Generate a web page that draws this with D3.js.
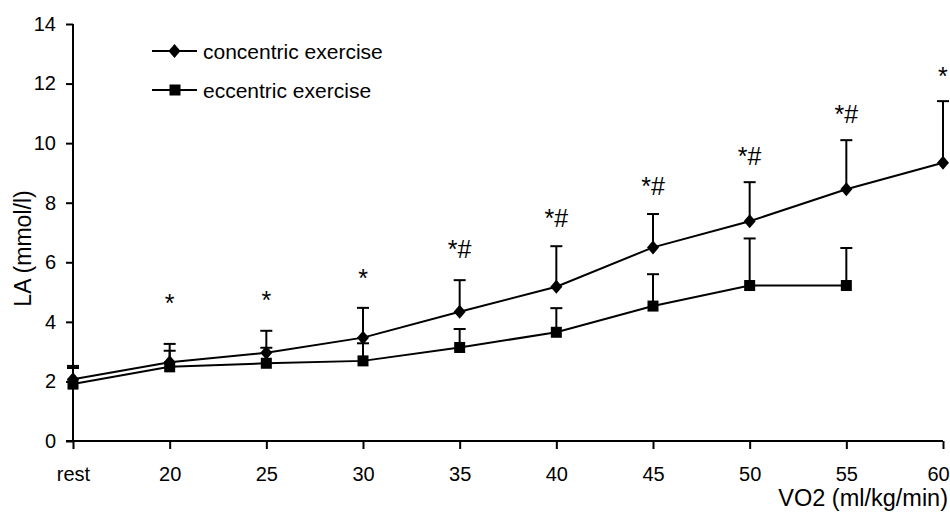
<!DOCTYPE html>
<html>
<head>
<meta charset="utf-8">
<script src="https://cdn.jsdelivr.net/npm/d3@7"></script>
<style>
  html, body { margin: 0; padding: 0; background: #fff; }
  svg { display: block; }
  text { font-family: "Liberation Sans", Arial, sans-serif; fill: #000; }
</style>
</head>
<body>
<svg id="chart" width="950" height="520"></svg>
<script>
// ---- data ----
const categories = ["rest", "20", "25", "30", "35", "40", "45", "50", "55", "60"];
const concentricMean = [2.07, 2.64, 2.96, 3.47, 4.34, 5.18, 6.50, 7.38, 8.45, 9.34];
const concentricUpper = [2.52, 3.26, 3.70, 4.47, 5.40, 6.54, 7.62, 8.69, 10.10, 11.41];
const eccentricMean = [1.91, 2.49, 2.61, 2.69, 3.14, 3.65, 4.53, 5.22, 5.22];
const eccentricUpper = [2.45, 3.03, 3.13, 3.28, 3.76, 4.46, 5.60, 6.80, 6.48];
const sigLabels = ["", "*", "*", "*", "*#", "*#", "*#", "*#", "*#", "*"];
const sigLevel = [null, 4.66, 4.77, 5.50, 6.48, 7.52, 8.59, 9.60, 11.00, 12.28];
const yTicks = [0, 2, 4, 6, 8, 10, 12, 14];
const seriesNames = ["concentric exercise", "eccentric exercise"];

// ---- layout ----
const svg = d3.select("#chart");
const x = d3.scalePoint().domain(categories).range([73, 943]).padding(0);
const y = d3.scaleLinear().domain([0, 14]).range([441, 24]);

// axes
const yAxis = svg.append("g")
  .attr("transform", "translate(73,0)")
  .call(d3.axisLeft(y).tickValues(yTicks).tickSize(7).tickPadding(10).tickFormat(d3.format("d")));
yAxis.selectAll("text").style("font-size", "20px");
yAxis.selectAll("path, line").attr("stroke", "#000").attr("stroke-width", 2);
yAxis.select(".domain").attr("d", `M0,${y(14)}V${y(0)}`);

const xAxis = svg.append("g")
  .attr("transform", `translate(0,${y(0)})`)
  .call(d3.axisBottom(x).tickSize(8).tickPadding(18));
xAxis.selectAll("text").style("font-size", "20px")
  .attr("dx", d => d === "60" ? -5 : 0);
xAxis.selectAll("path, line").attr("stroke", "#000").attr("stroke-width", 2);
xAxis.select(".domain").attr("d", `M66,0H943`);

// axis titles
svg.append("text")
  .attr("transform", `translate(31,${(y(0) + y(14)) / 2 + 16}) rotate(-90)`)
  .attr("text-anchor", "middle")
  .style("font-size", "23px")
  .text("LA (mmol/l)");
svg.append("text")
  .attr("x", 948).attr("y", 506)
  .attr("text-anchor", "end")
  .style("font-size", "23.5px")
  .text("VO2 (ml/kg/min)");

// error bars
function errorBars(means, uppers) {
  const g = svg.append("g").attr("stroke", "#000").attr("stroke-width", 2);
  means.forEach((m, i) => {
    const cx = x(categories[i]);
    g.append("line").attr("x1", cx).attr("x2", cx).attr("y1", y(m)).attr("y2", y(uppers[i]));
    g.append("line").attr("x1", cx - 6).attr("x2", cx + 6).attr("y1", y(uppers[i])).attr("y2", y(uppers[i]));
  });
}
errorBars(concentricMean, concentricUpper);
errorBars(eccentricMean, eccentricUpper);

// lines
const line = d3.line().x((d, i) => x(categories[i])).y(d => y(d));
svg.append("path").datum(concentricMean).attr("d", line)
  .attr("fill", "none").attr("stroke", "#000").attr("stroke-width", 2);
svg.append("path").datum(eccentricMean).attr("d", line)
  .attr("fill", "none").attr("stroke", "#000").attr("stroke-width", 2);

// markers
const diamondPath = "M0,-7L6,0L0,7L-6,0Z";
svg.append("g").selectAll("path").data(concentricMean).join("path")
  .attr("transform", (d, i) => `translate(${x(categories[i])},${y(d)})`)
  .attr("d", diamondPath).attr("fill", "#000");
svg.append("g").selectAll("rect").data(eccentricMean).join("rect")
  .attr("x", (d, i) => x(categories[i]) - 5.5).attr("y", d => y(d) - 5.5)
  .attr("width", 11).attr("height", 11).attr("fill", "#000");

// significance labels
const sigData = sigLabels.map((label, i) => ({ label, cat: categories[i], level: sigLevel[i], last: i === categories.length - 1 }))
  .filter(d => d.label !== "");
svg.append("g").selectAll("text").data(sigData).join("text")
  .attr("x", d => x(d.cat) + (d.last ? -5 : 0))
  .attr("y", d => y(d.level) + 10)
  .attr("text-anchor", d => d.last ? "start" : "middle")
  .style("font-size", "25px")
  .text(d => d.label);

// legend
const legend = svg.append("g");
seriesNames.forEach((name, i) => {
  const ly = 51 + i * 39;
  legend.append("line").attr("x1", 152).attr("x2", 197).attr("y1", ly).attr("y2", ly)
    .attr("stroke", "#000").attr("stroke-width", 2);
  if (i === 0) {
    legend.append("path").attr("transform", `translate(174.5,${ly})`).attr("d", diamondPath).attr("fill", "#000");
  } else {
    legend.append("rect").attr("x", 169.5).attr("y", ly - 5.5).attr("width", 11).attr("height", 11).attr("fill", "#000");
  }
  legend.append("text").attr("x", 203).attr("y", ly + 7.5)
    .style("font-size", "21px").text(name);
});
</script>
</body>
</html>
